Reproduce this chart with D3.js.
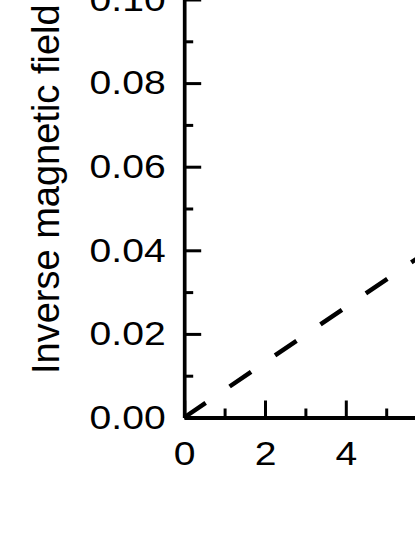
<!DOCTYPE html>
<meta charset="utf-8"/>
<style>
  body { margin: 0; background: #fff; }
  svg { display: block; font-family: "Liberation Sans", Arial, sans-serif; }
  .axis path, .axis line { stroke: #000; }
  .axis text { fill: #000; font-size: 34px; }
</style>
<svg width="415" height="537"></svg>
<script src="https://d3js.org/d3.v7.min.js"></script>
<script>

  // values
  var xMajor = [0, 2, 4];
  var xMinor = [1, 3, 5];
  var yMajor = [0.00, 0.02, 0.04, 0.06, 0.08, 0.10];
  var yMinor = [0.01, 0.03, 0.05, 0.07, 0.09];
  var yLabels = ["0.00", "0.02", "0.04", "0.06", "0.08", "0.10"];
  var lineX = [0, 10];
  var lineY = [0, 0.066];
  var yTitle = "Inverse magnetic field";

  var svg = d3.select("svg");

  var x = d3.scaleLinear().domain([0, 10]).range([184.2, 588.2]);
  var y = d3.scaleLinear().domain([0, 0.12]).range([417.5, -84.1]);

  var stretch = 1.15;

  // dashed line
  var pts = lineX.map(function (d, i) { return [d, lineY[i]]; });
  svg.append("path")
    .datum(pts)
    .attr("d", d3.line().x(function (d) { return x(d[0]); }).y(function (d) { return y(d[1]); }))
    .attr("fill", "none")
    .attr("stroke", "#000")
    .attr("stroke-width", 4.5)
    .attr("stroke-dasharray", "26,29");

  // minor ticks
  svg.append("g")
    .attr("class", "axis")
    .attr("transform", "translate(0,417.5)")
    .call(d3.axisBottom(x).tickValues(xMinor).tickSizeInner(-9).tickSizeOuter(0).tickFormat(""))
    .call(function (g) { g.select(".domain").remove(); })
    .selectAll("line").attr("stroke-width", 3);

  svg.append("g")
    .attr("class", "axis")
    .attr("transform", "translate(184.2,0)")
    .call(d3.axisLeft(y).tickValues(yMinor).tickSizeInner(-9).tickSizeOuter(0).tickFormat(""))
    .call(function (g) { g.select(".domain").remove(); })
    .selectAll("line").attr("stroke-width", 3);

  // major x axis
  var gx = svg.append("g")
    .attr("class", "axis")
    .attr("transform", "translate(0,417.5)")
    .call(d3.axisBottom(x).tickValues(xMajor).tickSizeInner(-17).tickSizeOuter(0).tickPadding(23));
  gx.select(".domain").attr("stroke-width", 4);
  gx.selectAll("line").attr("stroke-width", 3);
  gx.selectAll("text").attr("transform", "scale(" + stretch + ",1)");

  // major y axis
  var gy = svg.append("g")
    .attr("class", "axis")
    .attr("transform", "translate(184.2,0)")
    .call(d3.axisLeft(y).tickValues(yMajor).tickSizeInner(-17).tickSizeOuter(0)
      .tickFormat(function (d, i) { return yLabels[i]; }));
  gy.select(".domain").attr("stroke-width", 3.7);
  gy.selectAll("line").attr("stroke-width", 3);
  gy.selectAll("text")
    .attr("x", 0)
    .attr("transform", "translate(-18.5,0) scale(" + stretch + ",1)");

  gx.attr("font-family", null).attr("font-size", null);
  gy.attr("font-family", null).attr("font-size", null);

  // y title
  svg.append("text")
    .attr("transform", "translate(58.5,374) rotate(-90)")
    .attr("font-size", 38)
    .attr("fill", "#000")
    .text(yTitle);

</script>
